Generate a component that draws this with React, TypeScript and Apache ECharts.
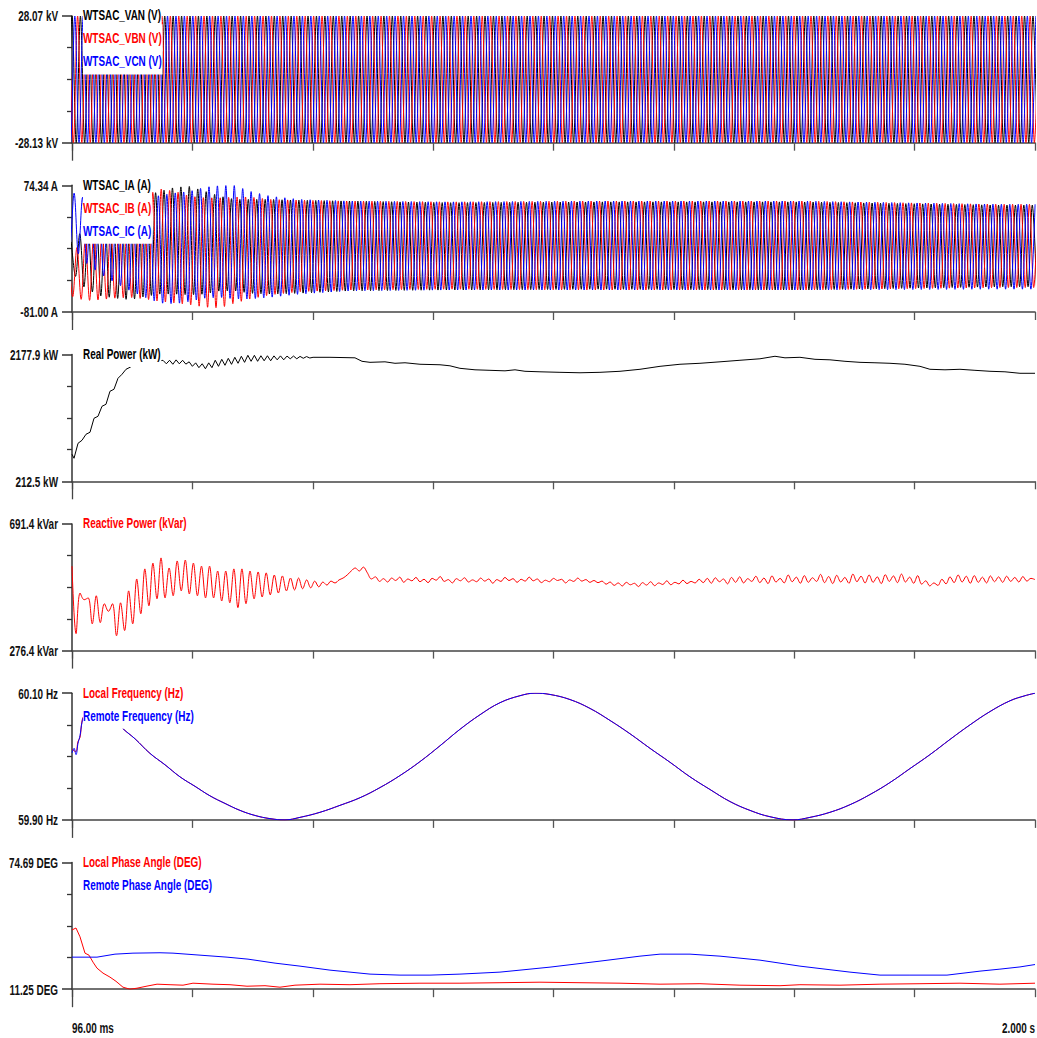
import React, { useEffect, useRef } from "react";
import * as echarts from "echarts";

const FONT = '"Liberation Sans", Arial, sans-serif';

// ---------- time axis ----------
const T0 = 0.096; // s
const T1 = 2.0; // s
const X_STEP = 0.238; // s between time ticks
const X_TICK_LABELS = ["96.00 ms", "2.000 s"];
const LINE_HZ = 60;

// ---------- y ranges / labels ----------
const Y_MIN = [-28.13, -81.0, 212.5, 276.4, 59.9, 11.25];
const Y_MAX = [28.07, 74.34, 2177.9, 691.4, 60.1, 74.69];
const Y_TOP_LABELS = ["28.07 kV", "74.34 A", "2177.9 kW", "691.4 kVar", "60.10 Hz", "74.69 DEG"];
const Y_BOTTOM_LABELS = ["-28.13 kV", "-81.00 A", "212.5 kW", "276.4 kVar", "59.90 Hz", "11.25 DEG"];

// ---------- voltages (peak envelopes, kV) ----------
const VOLT_KNOT_T = [0.096, 2.0];
const VAN_UP = [28.07, 28.07];
const VAN_LO = [-28.13, -28.13];
const VBN_UP = [28.05, 28.05];
const VBN_LO = [-28.1, -28.1];
const VCN_UP = [28.06, 28.06];
const VCN_LO = [-28.12, -28.12];
const V_PHASES = [0, -120, 120];

// ---------- currents (peak envelopes, A) ----------
const CUR_KNOT_T = [0.096, 0.122, 0.151, 0.181, 0.211, 0.24, 0.27, 0.3, 0.329, 0.359, 0.389, 0.418, 0.448, 0.488, 0.547, 0.646, 0.843, 1.14, 1.535, 1.931, 2.0];
const IA_UP = [5, 22, 34, 44, 52, 61, 67, 72, 73, 67, 61, 57, 57, 57, 56, 55, 53, 54, 54, 50, 50];
const IA_LO = [-32, -52, -61, -64, -66, -62, -59, -59, -60, -59, -55, -55, -58, -59, -58, -55, -54, -53, -54, -50, -50];
const IB_UP = [-8, 8, 20, 30, 45, 61, 70, 67, 61, 59, 59, 60, 60, 57, 56, 55, 54, 55, 55, 51, 51];
const IB_LO = [-62, -67, -66, -64, -63, -65, -68, -70, -72, -75, -76, -70, -65, -60, -56, -54, -53, -54, -54, -51, -51];
const IC_UP = [66, 58, 50, 46, 50, 57, 62, 65, 67, 72, 74, 74, 67, 61, 57, 55, 54, 55, 55, 51, 51];
const IC_LO = [0, -20, -34, -45, -55, -63, -70, -71, -68, -64, -63, -65, -65, -63, -59, -55, -54, -54, -54, -53, -53];
const I_PHASES = [-30, -150, 90];

// ---------- real power (kW) ----------
const PWR_T = [
  0.096, 0.1, 0.1079, 0.1158, 0.1237, 0.1316, 0.1395, 0.1474, 0.1553, 0.1632, 0.1711, 0.179, 0.1869, 0.1949, 0.2028, 0.2107, 0.2166, 0.2304, 0.2502,
  0.276, 0.2825, 0.2889, 0.2954, 0.3018, 0.3082, 0.3147, 0.3211, 0.3276, 0.334, 0.3405, 0.3469, 0.3534, 0.3598, 0.3663, 0.3727,
  0.3792, 0.3856, 0.3921, 0.3985, 0.405, 0.4114, 0.4179, 0.4243, 0.4308, 0.4372, 0.4437, 0.4501, 0.4566, 0.463, 0.4695, 0.4759,
  0.4824, 0.4888, 0.4953, 0.5017, 0.5082, 0.5146, 0.5211, 0.5275, 0.534, 0.5404, 0.5469, 0.5533, 0.5598, 0.5662, 0.5726,
  0.6061, 0.6555, 0.6694, 0.6852, 0.7148, 0.7346, 0.7544, 0.784, 0.8236, 0.8433, 0.8631, 0.8928, 0.9224, 0.9521, 0.9719, 0.9916,
  1.0213, 1.0608, 1.1004, 1.1399, 1.1795, 1.219, 1.2586, 1.2981, 1.3376, 1.3772, 1.4167, 1.4562, 1.4859, 1.5057, 1.5353, 1.565,
  1.5946, 1.6243, 1.654, 1.6836, 1.7133, 1.7429, 1.7726, 1.7923, 1.822, 1.8517, 1.8813, 1.911, 1.9406, 1.9703, 2.0,
];
const PWR_KW = [
  632, 570, 802, 849, 942, 973, 1190, 1221, 1376, 1407, 1609, 1640, 1810, 1873, 1950, 1981, 2012, 2074, 2058,
  2089, 2035, 2090, 2028, 2096, 2035, 2090, 2030, 2066, 1996, 2050, 1975, 2036, 1958, 2050, 1975,
  2090, 1996, 2105, 2012, 2120, 2027, 2136, 2043, 2152, 2058, 2167, 2074, 2167, 2074, 2160, 2082,
  2160, 2082, 2158, 2097, 2158, 2097, 2155, 2113, 2155, 2113, 2150, 2121, 2147, 2125, 2136,
  2136, 2128, 2074, 2058, 2066, 2043, 2051, 2028, 2020, 2004, 1965, 1942, 1934, 1926, 1942, 1919,
  1911, 1903, 1896, 1903, 1919, 1950, 1996, 2028, 2043, 2066, 2090, 2113, 2152, 2128, 2136, 2105,
  2097, 2074, 2058, 2051, 2043, 2028, 1996, 1950, 1942, 1950, 1934, 1919, 1911, 1888, 1888,
];

// ---------- reactive power (kVar), one sample every 8 ms from T0 ----------
const REACT_DT = 0.008;
const REACT_KVAR = [
  553, 332, 465, 443, 449, 364, 456, 368, 430, 405, 430, 325, 433, 342, 472, 364, 511, 397, 544, 423,
  563, 446, 580, 449, 547, 456, 570, 472, 573, 462, 563, 456, 553, 449, 553, 449, 537, 439, 537, 433,
  544, 417, 544, 430, 537, 446, 534, 452, 531, 459, 524, 465, 521, 472, 514, 475, 514, 479, 508, 482,
  504, 485, 501, 491, 504, 498, 508, 514, 524, 537, 547, 537, 550, 531, 511,
  518, 503, 512, 501, 514, 506, 517, 500, 511, 505, 516, 502, 510, 499, 513, 507, 519, 503, 509, 498,
  512, 505, 515, 501, 508, 502, 514, 504, 511, 497, 509, 503, 516, 506, 512, 500, 510, 504, 517, 505,
  511, 499, 507, 502, 513, 506, 510, 498, 508, 503, 514, 504, 509, 500, 506, 499,
  504, 494, 501, 490, 498, 488, 500, 492, 497, 486, 499, 491, 502, 489, 498, 493, 505, 492, 500, 495,
  507, 496, 503, 498, 510,
  499, 513, 497, 515, 502, 511, 495, 516, 500, 518, 498, 512, 503, 520, 499, 514, 496, 521, 501, 513,
  498, 524, 502, 517, 497, 522, 500, 515, 503, 526, 499, 519, 496, 523, 501, 516, 497, 527, 502, 520,
  498, 524, 500, 518, 496, 525, 503, 521, 499, 527, 501, 517, 497, 522, 494, 505, 488,
  498, 490, 510, 495, 518, 499, 524, 501, 520, 497, 522, 500, 517, 498, 521, 502, 518, 500, 520, 503,
  516, 501, 519, 504, 513, 509,
];

// ---------- frequency (Hz) ----------
const FREQ_T = [
  0.096, 0.1, 0.1039, 0.1079, 0.1118, 0.1158, 0.1197, 0.1316, 0.1514, 0.1711, 0.1968, 0.2206, 0.2502, 0.2799, 0.3095, 0.3392,
  0.3688, 0.3985, 0.4282, 0.4578, 0.4875, 0.5171, 0.5468, 0.5863, 0.6259, 0.6654, 0.7049, 0.7445, 0.784, 0.8236, 0.8631,
  0.9027, 0.9422, 0.9817, 1.0114, 1.0411, 1.0806, 1.1201, 1.1597, 1.1992, 1.2388, 1.2783, 1.3179, 1.3574, 1.3969, 1.4365,
  1.476, 1.5215, 1.5551, 1.5946, 1.6342, 1.6737, 1.7133, 1.7528, 1.7923, 1.8319, 1.8714, 1.911, 1.9505, 1.9802, 2.0,
];
const FREQ_LOCAL = [
  60.012, 60.009, 60.008, 60.024, 60.03, 60.056, 60.064, 60.071, 60.074, 60.066, 60.044, 60.028, 60.005, 59.987, 59.968, 59.953,
  59.938, 59.926, 59.915, 59.907, 59.902, 59.9, 59.904, 59.912, 59.923, 59.935, 59.951, 59.97, 59.992, 60.017, 60.043,
  60.066, 60.085, 60.096, 60.1, 60.098, 60.09, 60.076, 60.057, 60.036, 60.013, 59.991, 59.968, 59.948, 59.929, 59.915,
  59.905, 59.9, 59.904, 59.912, 59.924, 59.94, 59.959, 59.981, 60.003, 60.027, 60.05, 60.071, 60.088, 60.096, 60.1,
];
const FREQ_REMOTE = [
  60.006, 60.013, 60.003, 60.021, 60.033, 60.054, 60.063, 60.071, 60.074, 60.066, 60.044, 60.028, 60.005, 59.987, 59.968, 59.953,
  59.938, 59.926, 59.915, 59.907, 59.902, 59.9, 59.904, 59.912, 59.923, 59.935, 59.951, 59.97, 59.992, 60.017, 60.043,
  60.066, 60.085, 60.096, 60.1, 60.098, 60.09, 60.076, 60.057, 60.036, 60.013, 59.991, 59.968, 59.948, 59.929, 59.915,
  59.905, 59.9, 59.904, 59.912, 59.924, 59.94, 59.959, 59.981, 60.003, 60.027, 60.05, 60.071, 60.088, 60.096, 60.1,
];

// ---------- phase angle (DEG) ----------
const PH_LOCAL_T = [
  0.096, 0.1039, 0.1118, 0.1217, 0.1296, 0.1375, 0.1454, 0.1573, 0.1711, 0.183, 0.1968, 0.2107, 0.2245, 0.2443, 0.2641,
  0.2898, 0.3155, 0.3352, 0.3748, 0.4084, 0.442, 0.4776, 0.5072, 0.5369, 0.5863, 0.6456, 0.7049, 0.784, 0.8631, 0.9422,
  1.0213, 1.1004, 1.1795, 1.2586, 1.3376, 1.4167, 1.4958, 1.5353, 1.6144, 1.6935, 1.7726, 1.8517, 1.9307, 2.0,
];
const PH_LOCAL = [
  40.9, 41.9, 37.5, 29.3, 28.3, 24.8, 21.8, 19.3, 17.3, 15.2, 12.25, 11.25, 11.75, 12.8, 13.76,
  13.5, 13.26, 14.26, 13.76, 13.5, 12.75, 13.0, 12.25, 13.26, 13.76, 13.5, 14.0, 14.26, 14.26, 14.5,
  14.76, 14.5, 14.26, 13.76, 14.0, 13.26, 13.0, 13.5, 13.26, 13.76, 14.0, 14.26, 13.76, 14.26,
];
const PH_REMOTE_T = [
  0.096, 0.1454, 0.181, 0.2166, 0.27, 0.2957, 0.3491, 0.4025, 0.444, 0.4974, 0.5468, 0.6061, 0.6852, 0.7445, 0.8038, 0.8631,
  0.9422, 1.0411, 1.1399, 1.219, 1.2586, 1.3179, 1.3772, 1.4562, 1.5353, 1.6342, 1.6935, 1.7528, 1.826, 1.8912, 1.9307, 1.9703, 2.0,
];
const PH_REMOTE = [
  27.3, 27.3, 28.8, 29.3, 29.5, 29.3, 28.3, 27.3, 26.3, 24.3, 22.8, 20.8, 18.8, 18.3, 18.3, 18.8,
  19.8, 22.3, 25.3, 27.8, 28.8, 28.8, 27.8, 25.8, 22.8, 19.8, 18.3, 18.3, 18.3, 20.3, 21.3, 22.4, 23.6,
];

const NAMES = [
  ["WTSAC_VAN (V)", "WTSAC_VBN (V)", "WTSAC_VCN (V)"],
  ["WTSAC_IA (A)", "WTSAC_IB (A)", "WTSAC_IC (A)"],
  ["Real Power (kW)"],
  ["Reactive Power (kVar)"],
  ["Local Frequency (Hz)", "Remote Frequency (Hz)"],
  ["Local Phase Angle (DEG)", "Remote Phase Angle (DEG)"],
];
const COLORS = [
  ["#000000", "#ff0000", "#0000ff"],
  ["#000000", "#ff0000", "#0000ff"],
  ["#000000"],
  ["#ff0000"],
  ["#ff0000", "#0000ff"],
  ["#ff0000", "#0000ff"],
];

function envAt(ts: number[], vs: number[], t: number) {
  if (t <= ts[0]) return vs[0];
  for (let i = 1; i < ts.length; i++) {
    if (t <= ts[i]) {
      const f = (t - ts[i - 1]) / (ts[i] - ts[i - 1]);
      return vs[i - 1] + f * (vs[i] - vs[i - 1]);
    }
  }
  return vs[vs.length - 1];
}

// alternating half-cycle peaks of an AC waveform
function peakWave(ts: number[], up: number[], lo: number[], phaseDeg: number) {
  const half = 0.5 / LINE_HZ;
  const frac = (((phaseDeg / 360) % 1) + 1) % 1;
  const out: number[][] = [];
  let k = 0;
  for (let t = T0 + frac / LINE_HZ - 2 * half; t <= T1 + half; t += half, k++) {
    out.push([t - T0, envAt(ts, k % 2 === 0 ? up : lo, t)]);
  }
  return out;
}

function pairs(ts: number[], vs: number[]) {
  return ts.map((t, i) => [t - T0, vs[i]]);
}

const TEXT_SCALE = 0.64;
const TEXT_SIZE = 15.5;

export default function App() {
  const ref = useRef<HTMLDivElement>(null);

  useEffect(() => {
    if (!ref.current) return;
    const chart = echarts.init(ref.current, undefined, { renderer: "svg" });

    const TOP0 = 16;
    const GAP = 169.3;
    const H = 126.7;
    const tops = [0, 1, 2, 3, 4, 5].map((i) => TOP0 + GAP * i);

    const grid = tops.map((top) => ({
      left: 72,
      width: 963,
      top,
      height: H,
      containLabel: false,
      outerBoundsMode: "none",
    }));

    const xAxis: any[] = [];
    const yAxis: any[] = [];
    tops.forEach((_, i) => {
      xAxis.push({
        type: "value",
        gridIndex: i,
        min: 0,
        max: T1 - T0,
        interval: X_STEP,
        position: "bottom",
        axisLine: { show: true, onZero: false, lineStyle: { color: "#444", width: 1.6 } },
        axisTick: { show: true, length: 8, lineStyle: { color: "#555", width: 1.3 } },
        axisLabel: { show: false },
        splitLine: { show: false },
      });
      xAxis.push({
        type: "value",
        gridIndex: i,
        min: 0,
        max: T1 - T0,
        position: "bottom",
        axisLine: { show: false, onZero: false },
        axisTick: { show: true, customValues: [0], length: 18, lineStyle: { color: "#444", width: 1.3 } },
        axisLabel: { show: false },
        splitLine: { show: false },
      });
      const mn = Y_MIN[i];
      const mx = Y_MAX[i];
      const q = (mx - mn) / 4;
      yAxis.push({
        type: "value",
        gridIndex: i,
        min: mn,
        max: mx,
        position: "left",
        axisLine: { show: true, onZero: false, lineStyle: { color: "#333", width: 1.5 } },
        axisTick: { show: true, customValues: [mn, mx], length: 10, lineStyle: { color: "#333", width: 1.5 } },
        axisLabel: { show: false },
        splitLine: { show: false },
      });
      yAxis.push({
        type: "value",
        gridIndex: i,
        min: mn,
        max: mx,
        position: "left",
        axisLine: { show: false, onZero: false },
        axisTick: { show: true, customValues: [mn + q, mn + 2 * q, mn + 3 * q], length: 5, lineStyle: { color: "#333", width: 1.3 } },
        axisLabel: { show: false },
        splitLine: { show: false },
      });
    });

    const panelData: number[][][][] = [
      [
        peakWave(VOLT_KNOT_T, VAN_UP, VAN_LO, V_PHASES[0]),
        peakWave(VOLT_KNOT_T, VBN_UP, VBN_LO, V_PHASES[1]),
        peakWave(VOLT_KNOT_T, VCN_UP, VCN_LO, V_PHASES[2]),
      ],
      [
        peakWave(CUR_KNOT_T, IA_UP, IA_LO, I_PHASES[0]),
        peakWave(CUR_KNOT_T, IB_UP, IB_LO, I_PHASES[1]),
        peakWave(CUR_KNOT_T, IC_UP, IC_LO, I_PHASES[2]),
      ],
      [pairs(PWR_T, PWR_KW)],
      [REACT_KVAR.map((v, i) => [i * REACT_DT, v])],
      [pairs(FREQ_T, FREQ_LOCAL), pairs(FREQ_T, FREQ_REMOTE)],
      [pairs(PH_LOCAL_T, PH_LOCAL), pairs(PH_REMOTE_T, PH_REMOTE)],
    ];
    const smoothing = [0.35, 0.35, false, 0.35, 0.4, false];

    const series: any[] = [];
    panelData.forEach((list, i) => {
      list.forEach((data, j) => {
        series.push({
          type: "line",
          name: NAMES[i][j],
          xAxisIndex: 2 * i,
          yAxisIndex: 2 * i,
          data,
          showSymbol: false,
          symbol: "none",
          smooth: smoothing[i],
          clip: true,
          lineStyle: { color: COLORS[i][j], width: 1 },
          itemStyle: { color: COLORS[i][j] },
          z: 2 + j,
        });
      });
    });

    chart.setOption({
      animation: false,
      backgroundColor: "#ffffff",
      grid,
      xAxis,
      yAxis,
      series,
    });

    // texts (legends and axis end labels), placed with the chart's own scales
    const textStyle = (text: string, fill: string, align: string) => ({
      text,
      fill,
      fontFamily: FONT,
      fontSize: TEXT_SIZE,
      fontWeight: "bold",
      verticalAlign: "middle",
      align,
    });
    const graphic: any[] = [];
    tops.forEach((_, i) => {
      const axisX = chart.convertToPixel({ xAxisIndex: 2 * i } as any, 0) as number;
      const yTop = chart.convertToPixel({ yAxisIndex: 2 * i } as any, Y_MAX[i]) as number;
      const yBot = chart.convertToPixel({ yAxisIndex: 2 * i } as any, Y_MIN[i]) as number;
      graphic.push({
        type: "text", x: axisX - 14, y: yTop, scaleX: TEXT_SCALE, z: 100,
        style: textStyle(Y_TOP_LABELS[i], "#111", "right"),
      });
      graphic.push({
        type: "text", x: axisX - 14, y: yBot, scaleX: TEXT_SCALE, z: 100,
        style: textStyle(Y_BOTTOM_LABELS[i], "#111", "right"),
      });
      NAMES[i].forEach((name, j) => {
        graphic.push({
          type: "text",
          x: axisX + 11,
          y: yTop - 1 + 23 * j,
          scaleX: TEXT_SCALE,
          z: 100,
          style: {
            ...textStyle(name, COLORS[i][j], "left"),
            backgroundColor: "#ffffff",
            padding: [5, 1, 6, 0],
          },
        });
      });
    });
    const xl = chart.convertToPixel({ xAxisIndex: 10 } as any, 0) as number;
    const xr = chart.convertToPixel({ xAxisIndex: 10 } as any, T1 - T0) as number;
    const yb = chart.convertToPixel({ yAxisIndex: 10 } as any, Y_MIN[5]) as number;
    graphic.push({
      type: "text", x: xl, y: yb + 38, scaleX: TEXT_SCALE, z: 100,
      style: textStyle(X_TICK_LABELS[0], "#111", "left"),
    });
    graphic.push({
      type: "text", x: xr, y: yb + 38, scaleX: TEXT_SCALE, z: 100,
      style: textStyle(X_TICK_LABELS[1], "#111", "right"),
    });
    chart.setOption({ graphic });

    return () => chart.dispose();
  }, []);

  return (
    <div
      ref={ref}
      style={{ position: "fixed", left: 0, top: 0, width: 1037, height: 1038, background: "#fff" }}
    />
  );
}
